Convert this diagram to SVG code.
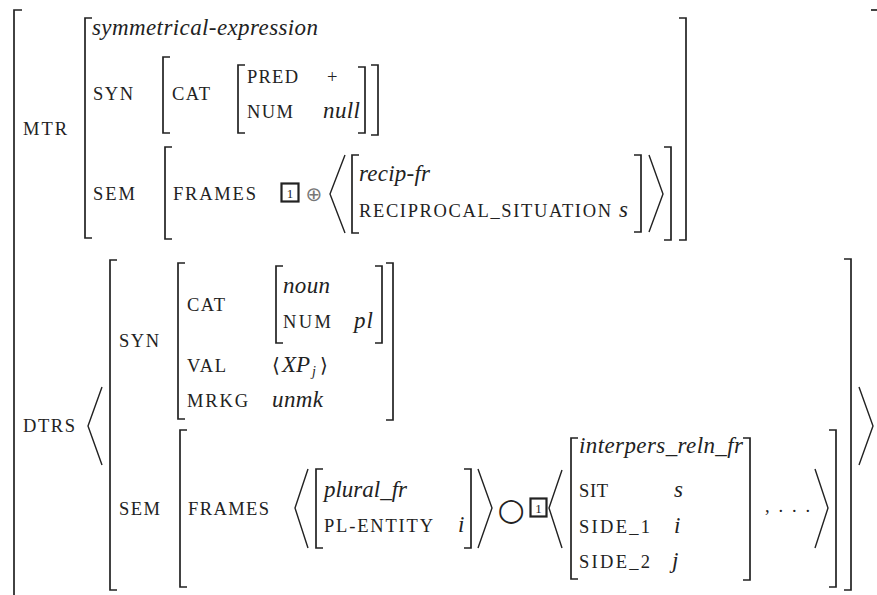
<svg xmlns="http://www.w3.org/2000/svg" width="877" height="595" viewBox="0 0 877 595" font-family="'Liberation Serif', 'Times New Roman', serif">
<style>
.b{fill:none;stroke:#222;stroke-width:1.7;stroke-linecap:butt;stroke-linejoin:miter}
.a{fill:none;stroke:#222;stroke-width:1.4}
.bx{fill:none;stroke:#222;stroke-width:2.2}
text{font-family:'Liberation Serif','Times New Roman',serif;fill:#222}
.k{font-size:18.5px}
.v{font-size:23px;font-style:italic}
.n{font-size:13px}
.op{font-family:'DejaVu Sans',sans-serif;fill:#777}
.cir{font-family:'DejaVu Sans',sans-serif;fill:#222}
.sym{font-family:'DejaVu Serif',serif}
</style>
<rect width="877" height="595" fill="#fff"/>
<g id="outer">
<path class="b" d="M22,10 H14 V600"/>
<path class="b" d="M871,10 H877"/>
<text class="k" x="23" y="135" textLength="44" lengthAdjust="spacing">MTR</text>
<text class="k" x="23" y="432" textLength="52" lengthAdjust="spacing">DTRS</text>
</g>
<g id="mtr">
<path class="b" d="M92,18 H85 V238 H92"/>
<path class="b" d="M679,18 H686 V240 H679"/>
<text class="v" x="92" y="35" textLength="226" lengthAdjust="spacing">symmetrical-expression</text>
<g id="mtr-syn">
<text class="k" x="93" y="100" textLength="40" lengthAdjust="spacing">SYN</text>
<path class="b" d="M170,57 H163 V133 H170"/>
<path class="b" d="M371,65 H378 V135 H371"/>
<text class="k" x="172" y="100" textLength="38" lengthAdjust="spacing">CAT</text>
<path class="b" d="M245,65 H238 V133 H245"/>
<path class="b" d="M358,67 H365 V133 H358"/>
<text class="k" x="247" y="83" textLength="51" lengthAdjust="spacing">PRED</text>
<text class="k" x="327" y="83">+</text>
<text class="k" x="247" y="118" textLength="46" lengthAdjust="spacing">NUM</text>
<text class="v" x="323" y="118" textLength="37" lengthAdjust="spacing">null</text>
</g>
<g id="mtr-sem">
<text class="k" x="93" y="200" textLength="42" lengthAdjust="spacing">SEM</text>
<path class="b" d="M172,147 H165 V239 H172"/>
<path class="b" d="M664,147 H671 V240 H664"/>
<text class="k" x="173" y="200" textLength="83" lengthAdjust="spacing">FRAMES</text>
<rect class="bx" x="281.5" y="183.5" width="17" height="18"/>
<text class="n" x="290" y="198" text-anchor="middle">1</text>
<text class="op" x="314" y="201" font-size="20" text-anchor="middle">⊕</text>
<polyline class="a" points="345,155 330,194 345,233"/>
<path class="b" d="M359,155 H352 V233 H359"/>
<text class="v" x="359" y="181" textLength="71" lengthAdjust="spacing">recip-fr</text>
<text class="k" x="359" y="217" textLength="252" lengthAdjust="spacing">RECIPROCAL_SITUATION</text>
<text class="v" x="619" y="217">s</text>
<path class="b" d="M634,155 H641 V232 H634"/>
<polyline class="a" points="649,155 663,194 649,232"/>
</g>
</g>
<g id="dtrs">
<polyline class="a" points="102,387 88,426 102,465"/>
<polyline class="a" points="859,387 873,426 859,465"/>
<path class="b" d="M117,260 H110 V590 H117"/>
<path class="b" d="M844,259 H851 V590 H844"/>
<g id="dtrs-syn">
<text class="k" x="119" y="347" textLength="40" lengthAdjust="spacing">SYN</text>
<path class="b" d="M185,263 H178 V419 H185"/>
<path class="b" d="M386,263 H393 V420 H386"/>
<text class="k" x="187" y="311" textLength="38" lengthAdjust="spacing">CAT</text>
<path class="b" d="M283,266 H276 V343 H283"/>
<path class="b" d="M375,266 H382 V343 H375"/>
<text class="v" x="283" y="293" textLength="47" lengthAdjust="spacing">noun</text>
<text class="k" x="283" y="328" textLength="48" lengthAdjust="spacing">NUM</text>
<text class="v" x="354" y="328" textLength="19" lengthAdjust="spacing">pl</text>
<text class="k" x="187" y="372" textLength="39" lengthAdjust="spacing">VAL</text>
<text x="272" y="372" font-size="20"><tspan class="sym">⟨</tspan><tspan x="282" font-style="italic" font-size="23">XP</tspan><tspan x="312" y="376" font-style="italic" font-size="14">j</tspan><tspan class="sym" x="320" y="372">⟩</tspan></text>
<text class="k" x="187" y="407" textLength="61" lengthAdjust="spacing">MRKG</text>
<text class="v" x="272" y="407" textLength="51" lengthAdjust="spacing">unmk</text>
</g>
<g id="dtrs-sem">
<text class="k" x="119" y="515" textLength="41" lengthAdjust="spacing">SEM</text>
<path class="b" d="M187,430 H180 V587 H187"/>
<path class="b" d="M829,430 H836 V587 H829"/>
<text class="k" x="188" y="515" textLength="81" lengthAdjust="spacing">FRAMES</text>
<polyline class="a" points="308,469 295,508 308,548"/>
<path class="b" d="M323,469 H316 V548 H323"/>
<text class="v" x="324" y="497" textLength="83" lengthAdjust="spacing">plural_fr</text>
<text class="k" x="324" y="532" textLength="109" lengthAdjust="spacing">PL-ENTITY</text>
<text class="v" x="458" y="532">i</text>
<path class="b" d="M464,469 H471 V548 H464"/>
<polyline class="a" points="478,469 492,508 478,548"/>
<text class="cir" x="511" y="520" font-size="31" text-anchor="middle">○</text>
<rect class="bx" x="530.5" y="498.5" width="16" height="18"/>
<text class="n" x="538.5" y="513" text-anchor="middle">1</text>
<polyline class="a" points="562,470 549,508 562,548"/>
<path class="b" d="M578,438 H571 V579 H578"/>
<text class="v" x="579" y="453" textLength="164" lengthAdjust="spacing">interpers_reln_fr</text>
<text class="k" x="579" y="497" textLength="29" lengthAdjust="spacing">SIT</text>
<text class="v" x="674" y="497">s</text>
<text class="k" x="579" y="533" textLength="71" lengthAdjust="spacing">SIDE_1</text>
<text class="v" x="674" y="533">i</text>
<text class="k" x="579" y="568" textLength="71" lengthAdjust="spacing">SIDE_2</text>
<text class="v" x="672" y="568">j</text>
<path class="b" d="M743,438 H750 V580 H743"/>
<text class="k" x="765" y="512" textLength="45" lengthAdjust="spacing">, . . .</text>
<polyline class="a" points="815,469 828,508 815,548"/>
</g>
</g>
</svg>
